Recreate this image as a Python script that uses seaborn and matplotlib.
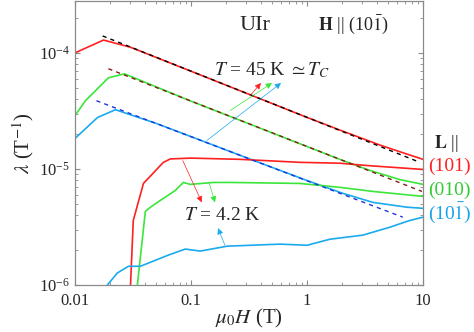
import numpy as np
import pandas as pd
import seaborn as sns
import matplotlib
matplotlib.use('Agg')
import matplotlib.pyplot as plt

# lambda(H) for UIr, H || (10-1), three L directions, at 45 K and 4.2 K
h_red45 = [0.01, 0.0176, 0.03, 0.1, 0.3, 1, 2, 4.3, 7, 10]
lam_red45 = [1.0e-4, 1.29e-4, 1.12e-4, 6.95e-5, 4.49e-5, 2.78e-5, 2.13e-5, 1.6e-5, 1.36e-5, 1.21e-5]
h_grn45 = [0.01, 0.0123, 0.0194, 0.0267, 0.1, 0.3, 1, 2, 3.5, 6.3, 10]
lam_grn45 = [2.88e-5, 3.87e-5, 6.1e-5, 6.6e-5, 3.84e-5, 2.50e-5, 1.56e-5, 1.19e-5, 9.7e-6, 8.1e-6, 7.36e-6]
h_blu45 = [0.01, 0.0156, 0.0223, 0.05, 0.1, 0.3, 1, 2, 3.7, 7.3, 10]
lam_blu45 = [1.83e-5, 2.77e-5, 3.24e-5, 2.47e-5, 1.90e-5, 1.25e-5, 7.95e-6, 6.2e-6, 5.15e-6, 4.68e-6, 4.58e-6]

h_red4 = [0.0297, 0.0301, 0.0318, 0.0389, 0.0578, 0.0664, 0.1, 0.265, 0.87, 1.93, 3.3, 10]
lam_red4 = [7.4e-7, 1.0e-6, 3.6e-6, 7.5e-6, 1.14e-5, 1.22e-5, 1.24e-5, 1.21e-5, 1.14e-5, 1.12e-5, 1.07e-5, 9.9e-6]
h_grn4 = [0.034, 0.0345, 0.0404, 0.0447, 0.0513, 0.0733, 0.0859, 0.0986, 0.156, 0.22, 0.87, 1.93, 3.7, 10]
lam_grn4 = [7.4e-7, 1.0e-6, 4.31e-6, 4.68e-6, 5.15e-6, 6.53e-6, 7.65e-6, 7.36e-6, 7.65e-6, 7.65e-6, 7.5e-6, 6.94e-6, 6.4e-6, 5.8e-6]
h_blu4 = [0.0179, 0.019, 0.0232, 0.0289, 0.0366, 0.0447, 0.0638, 0.0893, 0.12, 0.205, 0.586, 1.0, 1.58, 3.03, 5.19, 7.7, 10]
lam_blu4 = [8.7e-7, 1.0e-6, 1.27e-6, 1.45e-6, 1.45e-6, 1.57e-6, 1.81e-6, 2.04e-6, 1.96e-6, 2.16e-6, 2.25e-6, 2.2e-6, 2.48e-6, 2.69e-6, 3.15e-6, 3.6e-6, 3.84e-6]

# power-law fits (end points)
fit_h_red = [0.0173, 9.4]
fit_lam_red = [1.40e-4, 1.14e-5]
fit_h_grn = [0.0194, 9.8]
fit_lam_grn = [7.3e-5, 6.4e-6]
fit_h_blu = [0.0153, 6.7]
fit_lam_blu = [3.87e-5, 3.84e-6]

RED = '#ff2020'
GREEN = '#3ae63a'
BLUE = '#1aaaee'

sns.set_style('ticks')
plt.rcParams['font.family'] = ['Liberation Serif', 'DejaVu Serif']
plt.rcParams['mathtext.fontset'] = 'stix'

fig = plt.figure(figsize=(4.74, 3.32), dpi=100)
ax = fig.add_axes([75 / 474, 1 - 285 / 332, 348 / 474, 284 / 332])

curves = [(h_red45, lam_red45, RED), (h_grn45, lam_grn45, GREEN), (h_blu45, lam_blu45, BLUE),
          (h_red4, lam_red4, RED), (h_grn4, lam_grn4, GREEN), (h_blu4, lam_blu4, BLUE)]
for h, lam, c in curves:
    sns.lineplot(x=h, y=lam, ax=ax, color=c, lw=1.2, estimator=None, sort=False)

fits = [(fit_h_red, fit_lam_red, 'black'), (fit_h_grn, fit_lam_grn, '#8b1a1a'), (fit_h_blu, fit_lam_blu, '#2233dd')]
for h, lam, c in fits:
    sns.lineplot(x=h, y=lam, ax=ax, color=c, lw=1.0, estimator=None, sort=False, dashes=False)
    ax.lines[-1].set_dashes((3, 3))

ax.set_xscale('log')
ax.set_yscale('log')
ax.set_xlim(0.01, 10)
ax.set_ylim(1e-6, 2.8e-4)

for s in ax.spines.values():
    s.set_color('#8a8a8a')
    s.set_linewidth(0.9)
ax.tick_params(which='both', direction='in', top=True, right=True, color='#8a8a8a', labelsize=12)
ax.tick_params(which='major', length=3.6, width=0.8)
ax.tick_params(which='minor', length=2.2, width=0.6)
ax.set_xticks([0.01, 0.1, 1, 10])
ax.set_xticklabels(['0.01', '0.1', '1', '10'])
ax.tick_params(axis='x', pad=6)

ax.set_xlabel(r'$\mu_0H$ (T)', fontsize=15, labelpad=-2)
ax.set_ylabel(r'$\lambda$ (T$^{-1}$)', fontsize=15, labelpad=2)

ax.text(0.517, 0.915, 'UIr', transform=ax.transAxes, fontsize=16, ha='center', va='center')
ax.text(0.80, 0.915, r'$\mathbf{H}$ || (10$\bar{1}$)', transform=ax.transAxes, fontsize=13, ha='center', va='center')
ax.text(0.566, 0.757, r'$T$ = 45 K $\simeq T_C$', transform=ax.transAxes, fontsize=14, ha='center', va='center')
ax.text(0.423, 0.246, r'$T$ = 4.2 K', transform=ax.transAxes, fontsize=14, ha='center', va='center')

fig.text(0.942, 0.569, r'$\mathbf{L}$ ||', fontsize=13, ha='center', va='center')
fig.text(0.948, 0.500, '(101)', fontsize=14, color=RED, ha='center', va='center')
fig.text(0.948, 0.428, '(010)', fontsize=14, color='#33cc33', ha='center', va='center')
fig.text(0.948, 0.358, r'(10$\bar{1}$)', fontsize=14, color='#1aa3e8', ha='center', va='center')

# arrows: (tail, tip, color)
arrows = [((0.323, 4.28e-5), (0.401, 5.5e-5), RED),
          ((0.217, 3.18e-5), (0.499, 5.5e-5), GREEN),
          ((0.137, 1.76e-5), (0.597, 5.5e-5), BLUE),
          ((0.085, 1.18e-5), (0.124, 5.15e-6), RED),
          ((0.143, 7.65e-6), (0.161, 5.15e-6), GREEN),
          ((0.196, 2.2e-6), (0.171, 3.09e-6), BLUE)]
for tail, tip, c in arrows:
    ax.annotate('', xy=tip, xytext=tail,
                arrowprops=dict(arrowstyle='-|>', color=c, lw=0.5, mutation_scale=9, shrinkA=0, shrinkB=0))

fig.savefig('out.png', dpi=100)
